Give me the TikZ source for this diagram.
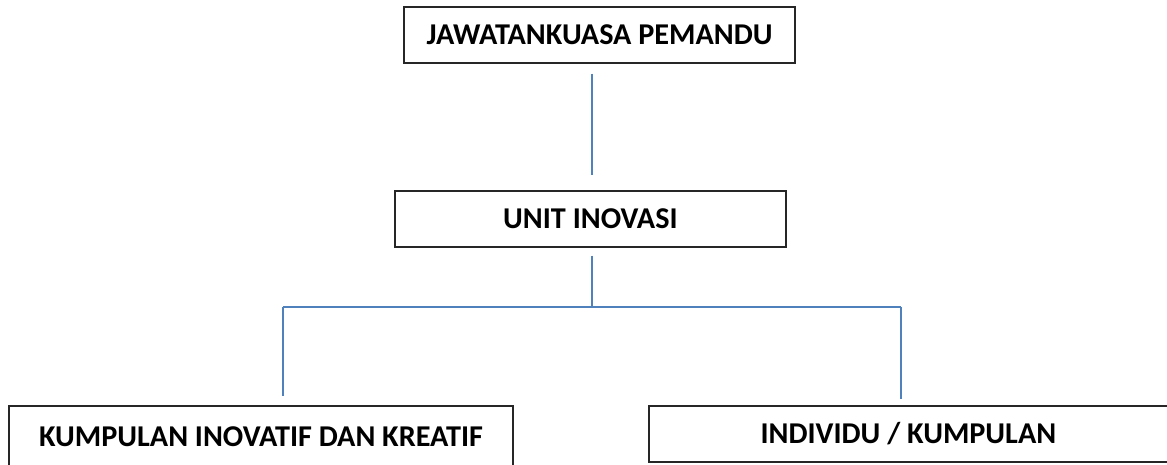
\documentclass[tikz,border=0pt]{standalone}
\usepackage{fontspec}
\setmainfont{Carlito}
\usepackage{tikz}
\definecolor{linkblue}{RGB}{79,129,189}
\tikzset{
  unitbox/.style={draw=black!85, line width=0.9pt, fill=white, inner sep=0pt,
    font=\fontsize{21.5}{26}\selectfont\bfseries},
  link/.style={draw=linkblue, line width=1.3pt}
}

\begin{document}
\begin{tikzpicture}
		%%%%% START %%%%%
		\useasboundingbox (0, 0) rectangle (29.175, 11.6);
		\clip (0, 0) rectangle (29.175, 11.6);
		
		\node[unitbox, minimum width=9.775cm, minimum height=1.4cm] (pem) at (14.99, 10.725) {JAWATANKUASA PEMANDU};
		\node[unitbox, minimum width=9.775cm, minimum height=1.4cm] (unit) at (14.76, 6.125) {UNIT INOVASI};
		\node[unitbox, minimum width=12.6cm, minimum height=1.55cm] (kik) at (6.525, 0.675) {KUMPULAN INOVATIF DAN KREATIF};
		\node[unitbox, minimum width=12.975cm, minimum height=1.4cm] (ind) at (22.71, 0.75) {INDIVIDU / KUMPULAN};
		
		\coordinate (hub) at (14.8, 3.925);
		\coordinate (busL) at (7.075, 3.925);
		\coordinate (busR) at (22.525, 3.925);
		
		\draw[link, shorten <=0.25cm, shorten >=0.375cm] (pem.south -| hub) -- (unit.north -| hub);
		\draw[link, shorten <=0.2cm] (unit.south -| hub) -- (hub);
		\draw[link] (busL) -- (busR);
		\draw[link, shorten >=0.225cm] (busL) -- (busL |- kik.north);
		\draw[link, shorten >=0.15cm] (busR) -- (busR |- ind.north);
		%%%%% END %%%%%
\end{tikzpicture}
\end{document}
